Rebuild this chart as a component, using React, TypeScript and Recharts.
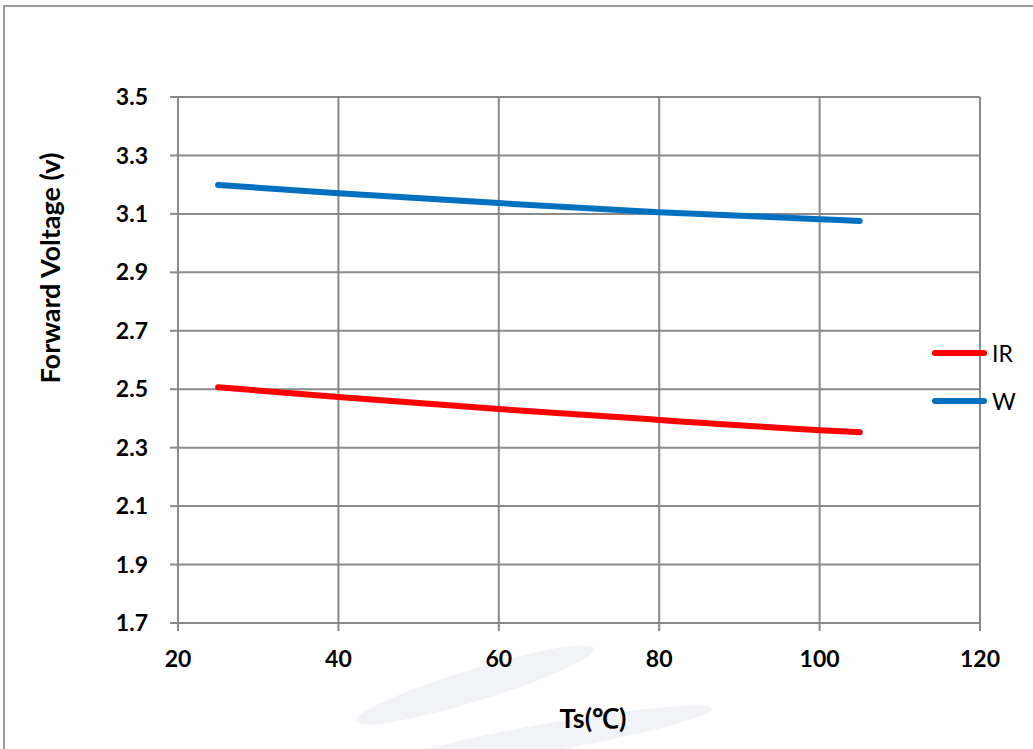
import React from 'react';
import { LineChart, Line, XAxis, YAxis, CartesianGrid } from 'recharts';

const temps = [25, 40, 60, 80, 100, 105];
const irVolts = [2.507, 2.473, 2.432, 2.395, 2.36, 2.353];
const wVolts = [3.199, 3.171, 3.137, 3.106, 3.082, 3.076];
const xTicks = [20, 40, 60, 80, 100, 120];
const yTicks = [1.7, 1.9, 2.1, 2.3, 2.5, 2.7, 2.9, 3.1, 3.3, 3.5];
const seriesNames = ['IR', 'W'];
const seriesColors = ['#ff0000', '#0070c0'];

const chartData = temps.map((t, i) => ({ t, IR: irVolts[i], W: wVolts[i] }));

const font = 'Lato, "Open Sans", sans-serif';
const gridColor = '#8a8a8a';

// legend sits outside the plot on the right, like the excel original
const LegendBox = () => (
  <div style={{ position: 'absolute', left: 932, top: 338, fontFamily: font, fontSize: 23, color: '#000' }}>
    {seriesNames.map((n, i) => (
      <div key={n} style={{ display: 'flex', alignItems: 'center', height: 30, marginBottom: 18 }}>
        <div style={{ width: 55, height: 6, borderRadius: 3, background: seriesColors[i], marginRight: 5 }} />
        <span>{n}</span>
      </div>
    ))}
  </div>
);

export default function App() {
  return (
    <div style={{ position: 'absolute', left: 0, top: 0, width: 1033, height: 749, background: '#fff', overflow: 'hidden' }}>
      <div style={{ position: 'absolute', left: 3, top: 5, width: 1040, height: 760, border: '2px solid #9a9a9a', boxSizing: 'border-box' }} />
      <svg width={1033} height={749} style={{ position: 'absolute', left: 0, top: 0 }}>
        <ellipse cx={475} cy={685} rx={125} ry={16} transform="rotate(-17 475 685)" fill="#f1f3f6" />
        <ellipse cx={545} cy={738} rx={170} ry={14} transform="rotate(-10 545 738)" fill="#f1f3f6" />
      </svg>
      <div style={{ position: 'absolute', left: 0, top: 0 }}>
        <LineChart width={1033} height={749} data={chartData} margin={{ top: 97, right: 53, bottom: 0, left: 0 }}>
          <CartesianGrid stroke={gridColor} strokeWidth={2} />
          <XAxis
            dataKey="t"
            type="number"
            domain={[20, 120]}
            ticks={xTicks}
            height={126}
            stroke={gridColor}
            strokeWidth={2}
            tickSize={8}
            tickMargin={20}
            tick={{ fontFamily: font, fontSize: 23, fontWeight: 700, fill: '#000' }}
            label={() => (
              <text x={593} y={728} textAnchor="middle" fontFamily={font} fontSize={27} fontWeight={700} fill="#000">
                Ts(℃)
              </text>
            )}
          />
          <YAxis
            type="number"
            domain={[1.7, 3.5]}
            ticks={yTicks}
            width={178}
            stroke={gridColor}
            strokeWidth={2}
            tickSize={8}
            tickMargin={22}
            tickFormatter={(v: number) => v.toFixed(1)}
            tick={{ fontFamily: font, fontSize: 23, fontWeight: 700, fill: '#000' }}
            label={() => (
              <text x={49} y={268} transform="rotate(-90 49 268)" textAnchor="middle" dominantBaseline="central" fontFamily={font} fontSize={27} fontWeight={700} fill="#000">
                Forward Voltage (v)
              </text>
            )}
          />
          <Line dataKey="IR" type="monotone" stroke={seriesColors[0]} strokeWidth={6} strokeLinecap="round" dot={false} isAnimationActive={false} />
          <Line dataKey="W" type="monotone" stroke={seriesColors[1]} strokeWidth={6} strokeLinecap="round" dot={false} isAnimationActive={false} />
        </LineChart>
      </div>
      <LegendBox />
    </div>
  );
}
